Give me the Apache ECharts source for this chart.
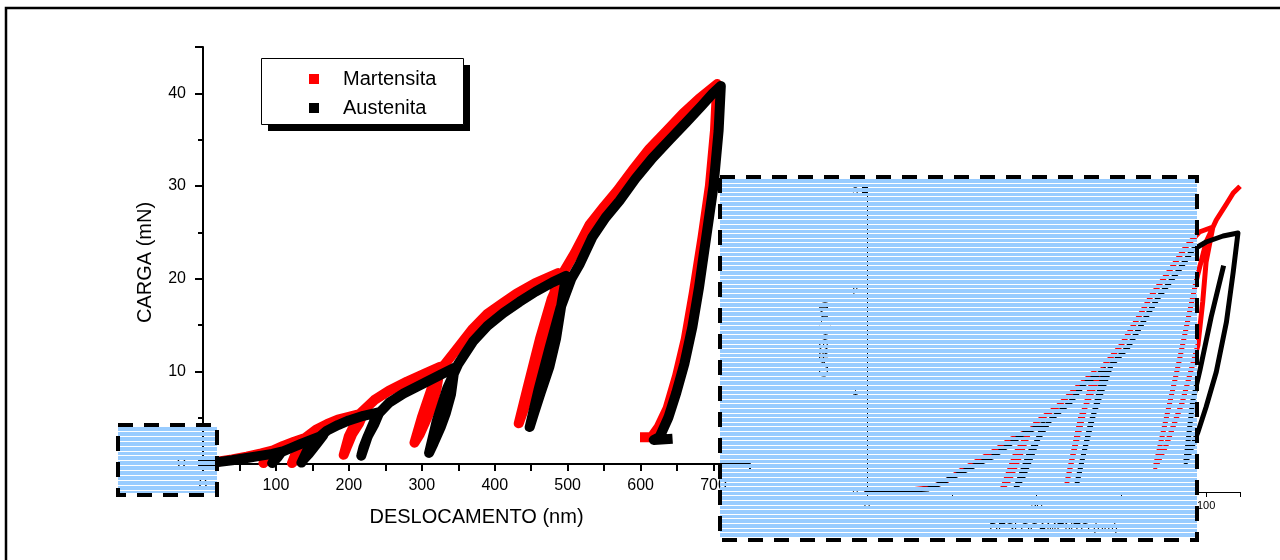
<!DOCTYPE html>
<html><head><meta charset="utf-8">
<script src="https://cdn.jsdelivr.net/npm/echarts@6/dist/echarts.min.js"></script>
<style>html,body{margin:0;padding:0;background:#fff}#c{width:1280px;height:560px}</style>
</head><body><div id="c"></div>
<script>
// ---- data (displacement nm, load mN) ----
const seriesNames = ['Martensita', 'Austenita'];
const seriesColors = ['#ff0000', '#000000'];

const martensitaMain = [
  [0,0],[20,0.25],[40,0.5],[60,0.8],[80,1.15],[95,1.45],
  [90,0.8],[86,0.35],[83,0.1],
  [88,0.7],[97,1.5],[110,1.95],[125,2.4],[138,2.75],[150,3.0],
  [142,2.0],[133,1.0],[126,0.4],[122,0.1],
  [128,1.3],[140,2.8],[155,3.7],[170,4.3],[185,4.8],[200,5.1],[220,5.5],
  [214,4.4],[205,3.3],[198,2.0],[193,1.0],
  [200,3.0],[215,5.4],[235,6.9],[255,7.9],[280,8.9],[305,9.8],[325,10.5],
  [320,8.0],[313,6.0],[305,4.6],[297,3.2],[290,2.3],
  [300,5.0],[315,8.5],[330,10.6],[350,12.6],[370,14.6],[390,16.2],[410,17.3],[430,18.4],[455,19.5],[487,20.6],
  [478,17.0],[468,13.5],[457,10.2],[446,7.3],[438,5.5],[433,4.4],
  [445,8.2],[462,13.5],[478,17.8],[495,20.8],[510,22.8],[530,25.8],[550,27.8],[568,29.5],[590,31.8],[612,34.0],[635,35.9],[658,37.8],[680,39.4],[705,41.0],
  [702,36.0],[695,30.0],[685,24.5],[673,18.5],[662,13.5],[650,9.5],[637,6.0],[625,4.0],[615,2.9],[606,2.9]
];
const austenitaMain = [
  [0,0],[20,0.2],[40,0.4],[60,0.65],[80,0.9],[95,1.1],[108,1.35],
  [103,0.8],[98,0.35],[95,0.1],
  [100,0.6],[108,1.3],[120,1.7],[135,2.2],[150,2.65],[165,3.1],
  [155,2.1],[145,1.1],[138,0.5],[135,0.15],
  [142,1.3],[155,2.6],[170,3.6],[185,4.2],[200,4.7],[220,5.2],[242,5.6],
  [235,4.3],[226,3.0],[220,1.8],[217,0.9],
  [225,2.8],[238,5.2],[255,6.6],[275,7.6],[300,8.6],[325,9.6],[345,10.4],
  [340,7.5],[333,5.5],[326,4.0],[316,2.2],[310,1.2],
  [320,4.5],[335,8.2],[350,10.8],[370,13.2],[390,14.9],[412,16.3],[434,17.5],[456,18.6],[479,19.6],[498,20.3],
  [492,17.5],[484,13.5],[475,10.5],[463,7.7],[454,5.5],[448,4.0],
  [460,8.0],[475,12.5],[490,16.8],[505,20.0],[516,21.5],[534,24.5],[552,26.6],[571,28.4],[593,30.8],[616,33.0],[640,35.0],[663,36.9],[683,38.6],[699,40.0],[710,40.8],
  [707,36.0],[700,30.0],[690,24.5],[680,19.0],[671,14.8],[660,10.8],[649,7.7],[638,5.0],[626,2.9],[618,2.6],[637,2.7]
];
const martensitaInset = [
  [0,0],[10,0.01],[18,0.04],[23,0.1],[27,0.2],[32,0.3],[37,0.4],[42,0.52],[48,0.62],
  [45,0.35],[42,0.12],[40,0.04],
  [44,0.4],[50,0.7],[56,0.85],[62,1.05],[67,1.2],
  [64,0.8],[61,0.4],[59,0.1],
  [63,0.75],[70,1.27],[75,1.47],[81,1.8],[84,1.97],[90,2.25],[94,2.45],[98,2.6],[102,2.65],
  [100,2.3],[99,1.9],[97.6,1.47],[93,0.9],[88,0.45],[85,0.25],
  [92,1.3],[97,2.1],[100,2.5],[103,2.72],[106,2.88],[108,2.99],[109.5,3.04]
];
const austenitaInset = [
  [0,0],[10,0.01],[18,0.03],[22,0.09],[27,0.18],[32,0.27],[37,0.35],[41,0.45],[46,0.58],[52,0.68],
  [49,0.4],[46,0.15],[44,0.05],
  [48,0.4],[54,0.72],[60,0.9],[64,1.08],[70,1.22],
  [67,0.8],[64,0.4],[62,0.1],
  [66,0.7],[72,1.27],[77,1.45],[83,1.79],[86,1.95],[92,2.22],[96,2.42],[100,2.5],[105,2.56],[109.4,2.59],
  [108,2.2],[106,1.7],[103,1.2],[100,0.85],[97.6,0.6],[94,0.3],
  [96,0.9],[98.2,1.22],[101.5,1.75],[105,2.24]
];
const xTitle = 'DESLOCAMENTO (nm)';
const yTitle = 'CARGA (mN)';

// ---- decoration helpers ----
const FONT = '"Liberation Sans", Arial, sans-serif';
function stripedBox(x0, y0, x1, y1, period) {
  const els = [];
  const n = Math.ceil((y1 - y0) / period);
  for (let i = 0; i < n; i++) {
    const a = Math.round(y0 + 2 + i * period);
    const b = Math.min(Math.round(y0 + 2 + (i + 1) * period) - 1, y1 - 2);
    if (b > a) els.push({type: 'rect', silent: true, z: 100, zlevel: 0,
      shape: {x: x0, y: a, width: x1 - x0, height: b - a}, style: {fill: '#99ccff'}});
  }
  els.push({type: 'rect', silent: true, z: 101,
    shape: {x: x0, y: y0, width: x1 - x0, height: y1 - y0},
    style: {fill: 'none', stroke: '#000', lineWidth: 4, lineDash: [15, 11]}});
  return els;
}

const chart = echarts.init(document.getElementById('c'), null, {renderer: 'canvas'});
const axisCommon = {
  axisLine: {onZero: false, lineStyle: {color: '#000', width: 2}},
  axisTick: {lineStyle: {color: '#000', width: 2}},
  splitLine: {show: false},
  axisLabel: {color: '#000', fontFamily: FONT}
};
chart.setOption({
  animation: false,
  backgroundColor: '#fff',
  textStyle: {fontFamily: FONT},
  grid: [
    {left: 203, top: 47, width: 547, height: 417},
    {left: 867, top: 187, width: 373, height: 305}
  ],
  xAxis: [
    Object.assign({}, axisCommon, {
      gridIndex: 0, type: 'value', min: 0, max: 750, interval: 50,
      axisTick: {length: 7, lineStyle: {color: '#000', width: 2}},
      axisLabel: {color: '#000', fontFamily: FONT, fontSize: 16, margin: 14,
        formatter: v => (v % 100 === 0 ? String(v) : '')},
      name: xTitle, nameLocation: 'middle', nameGap: 43,
      nameTextStyle: {fontSize: 20, color: '#000', fontFamily: FONT}
    }),
    Object.assign({}, axisCommon, {
      gridIndex: 1, type: 'value', min: 0, max: 110, interval: 25,
      axisLine: {onZero: false, lineStyle: {color: '#000', width: 1}},
      axisTick: {length: 5, lineStyle: {color: '#000', width: 1}},
      axisLabel: {color: '#000', fontFamily: FONT, fontSize: 11, margin: 8,
        formatter: v => (v % 50 === 0 ? String(v) : '')},
      name: xTitle, nameLocation: 'middle', nameGap: 31,
      nameTextStyle: {fontSize: 12, color: '#000', fontFamily: FONT}
    })
  ],
  yAxis: [
    Object.assign({}, axisCommon, {
      gridIndex: 0, type: 'value', min: 0, max: 45, interval: 10,
      axisTick: {length: 8, lineStyle: {color: '#000', width: 2}},
      minorTick: {show: true, splitNumber: 2, length: 5, lineStyle: {color: '#000', width: 2}},
      axisLabel: {color: '#000', fontFamily: FONT, fontSize: 16, margin: 17,
        formatter: v => (v % 10 === 0 ? String(v) : '')},
      name: yTitle, nameLocation: 'middle', nameGap: 48, nameRotate: 90,
      nameTextStyle: {fontSize: 20, color: '#000', fontFamily: FONT, padding: [0, 14, 0, 0]}
    }),
    Object.assign({}, axisCommon, {
      gridIndex: 1, type: 'value', min: 0, max: 3.05, interval: 1,
      axisLine: {onZero: false, lineStyle: {color: '#000', width: 1}},
      axisTick: {length: 5, lineStyle: {color: '#000', width: 1}},
      axisLabel: {color: '#000', fontFamily: FONT, fontSize: 10, margin: 9,
        formatter: v => (Number.isInteger(v) ? String(v) : '')},
      name: yTitle, nameLocation: 'middle', nameGap: 36, nameRotate: 90,
      nameTextStyle: {fontSize: 12.5, color: '#000', fontFamily: FONT}
    })
  ],
  legend: {
    data: seriesNames, orient: 'vertical', left: 304, top: 64, itemGap: 9,
    icon: 'rect', itemWidth: 10, itemHeight: 10, selectedMode: false, z: 20,
    textStyle: {fontSize: 20, color: '#000', fontFamily: FONT, lineHeight: 20, padding: [0, 0, 0, 19]}
  },
  graphic: {elements: [
    {type: 'polyline', silent: true, z: 50, shape: {points: [[6, 560], [6, 8], [1280, 8]]},
      style: {stroke: '#000', lineWidth: 2.5, fill: 'none'}},
    {type: 'rect', silent: true, z: 5, shape: {x: 268, y: 65, width: 202, height: 66}, style: {fill: '#000'}},
    {type: 'rect', silent: true, z: 6, shape: {x: 261.5, y: 58.5, width: 202, height: 66},
      style: {fill: '#fff', stroke: '#000', lineWidth: 1}}
  ].concat(stripedBox(720, 177, 1197, 540, 4.6), stripedBox(118, 425, 217, 495, 4.9))},
  series: [
    {name: seriesNames[0], type: 'line', xAxisIndex: 0, yAxisIndex: 0, data: martensitaMain,
      showSymbol: false, z: 2, itemStyle: {color: seriesColors[0]},
      lineStyle: {color: seriesColors[0], width: 10, cap: 'square', join: 'round'}},
    {name: seriesNames[1], type: 'line', xAxisIndex: 0, yAxisIndex: 0, data: austenitaMain,
      showSymbol: false, z: 3, itemStyle: {color: seriesColors[1]},
      lineStyle: {color: seriesColors[1], width: 10, cap: 'square', join: 'round'}},
    {name: seriesNames[0], type: 'line', xAxisIndex: 1, yAxisIndex: 1, data: martensitaInset,
      showSymbol: false, z: 2, itemStyle: {color: seriesColors[0]},
      lineStyle: {color: seriesColors[0], width: 5, cap: 'square', join: 'round'}},
    {name: seriesNames[1], type: 'line', xAxisIndex: 1, yAxisIndex: 1, data: austenitaInset,
      showSymbol: false, z: 3, itemStyle: {color: seriesColors[1]},
      lineStyle: {color: seriesColors[1], width: 5, cap: 'square', join: 'round'}}
  ]
});
</script></body></html>
